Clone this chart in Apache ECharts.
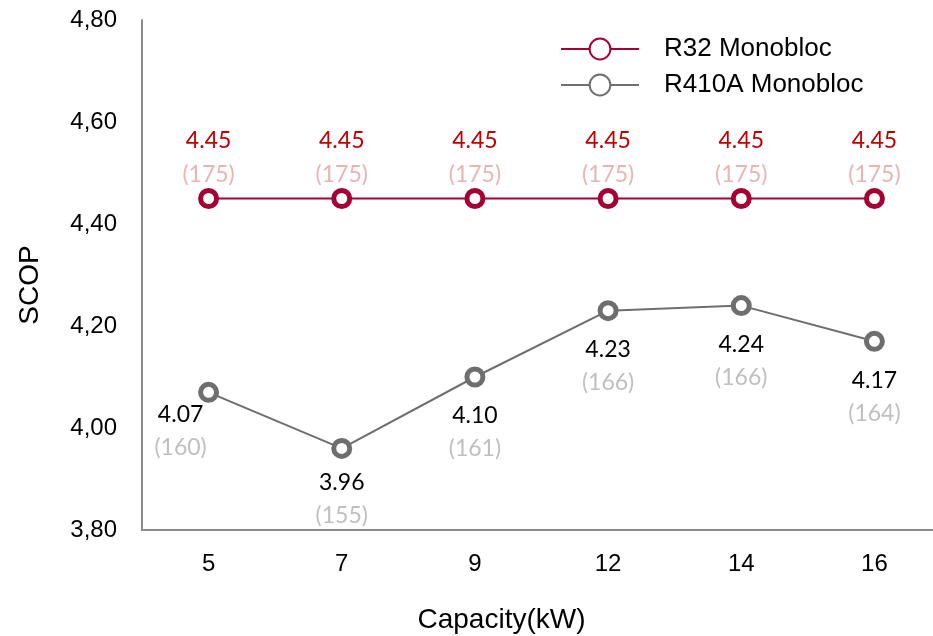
<!DOCTYPE html>
<html>
<head>
<meta charset="utf-8">
<script src="https://cdn.jsdelivr.net/npm/echarts@6/dist/echarts.min.js"></script>
<style>html,body{margin:0;padding:0;background:#fff}#c{width:933px;height:636px}</style>
</head>
<body>
<div id="c"></div>
<script>
const categories = ['5', '7', '9', '12', '14', '16'];
const r32Values = [4.45, 4.45, 4.45, 4.45, 4.45, 4.45];
const r32Secondary = [175, 175, 175, 175, 175, 175];
const r410Values = [4.07, 3.96, 4.10, 4.23, 4.24, 4.17];
const r410Secondary = [160, 155, 161, 166, 166, 164];
const yTicks = { min: 3.8, max: 4.8, interval: 0.2 };

const labelFont = 'Lato, "Open Sans", sans-serif';
const axisFont = '"Liberation Sans", Arial, sans-serif';
const chart = echarts.init(document.getElementById('c'));

const r32Data = r32Values.map(v => ({ value: v }));
const r410Data = r410Values.map((v, i) => {
  const d = { value: v };
  if (i === 0) {
    d.label = { position: 'bottom', offset: [-28, -17] };
  }
  if (i === 1) {
    d.label = { offset: [0, -5] };
  }
  return d;
});

chart.setOption({
  animation: false,
  grid: { left: 142, right: -8, top: 20, bottom: 106, outerBoundsMode: 'none', containLabel: false },
  legend: {
    orient: 'vertical',
    left: 555,
    top: 31,
    itemWidth: 78,
    itemHeight: 26,
    itemGap: 10,
    textStyle: { fontFamily: axisFont, fontSize: 26, color: '#000', padding: [0, 0, 0, 20] },
    data: ['R32 Monobloc', 'R410A Monobloc']
  },
  xAxis: {
    type: 'category',
    data: categories,
    boundaryGap: true,
    axisLine: { lineStyle: { color: '#8c8c8c', width: 2 } },
    axisTick: { show: false },
    axisLabel: { fontFamily: axisFont, fontSize: 24, color: '#000', margin: 22 },
    name: 'Capacity(kW)',
    nameLocation: 'middle',
    nameGap: 76,
    nameTextStyle: { fontFamily: axisFont, fontSize: 28, color: '#000', padding: [0, 80, 0, 0] }
  },
  yAxis: {
    type: 'value',
    min: yTicks.min,
    max: yTicks.max,
    interval: yTicks.interval,
    axisLine: { show: true, lineStyle: { color: '#8c8c8c', width: 2 } },
    axisTick: { show: false },
    splitLine: { show: false },
    axisLabel: {
      fontFamily: axisFont, fontSize: 24, color: '#000', margin: 25,
      formatter: v => v.toFixed(2).replace('.', ',')
    },
    name: 'SCOP',
    nameLocation: 'middle',
    nameGap: 98,
    nameTextStyle: { fontFamily: axisFont, fontSize: 28, color: '#000', padding: [0, 20, 0, 0] }
  },
  series: [
    {
      name: 'R32 Monobloc',
      type: 'line',
      data: r32Data,
      symbol: 'circle',
      symbolSize: 16,
      itemStyle: { color: '#fff', borderColor: '#a50034', borderWidth: 5 },
      lineStyle: { color: '#a50034', width: 2 },
      label: {
        show: true,
        position: 'top',
        distance: -4,
        formatter: p => '{a|' + r32Values[p.dataIndex].toFixed(2) + '}\n{b|(' + r32Secondary[p.dataIndex] + ')}',
        rich: {
          a: { fontFamily: labelFont, fontSize: 23, color: '#c00000', lineHeight: 34, align: 'center' },
          b: { fontFamily: labelFont, fontSize: 23, color: '#e8b4b4', lineHeight: 34, align: 'center' }
        }
      },
      z: 3
    },
    {
      name: 'R410A Monobloc',
      type: 'line',
      data: r410Data,
      symbol: 'circle',
      symbolSize: 16,
      itemStyle: { color: '#fff', borderColor: '#6e6e6e', borderWidth: 5 },
      lineStyle: { color: '#6e6e6e', width: 2 },
      label: {
        show: true,
        position: 'bottom',
        distance: 12,
        formatter: p => '{a|' + r410Values[p.dataIndex].toFixed(2) + '}\n{b|(' + r410Secondary[p.dataIndex] + ')}',
        rich: {
          a: { fontFamily: labelFont, fontSize: 23, color: '#000', lineHeight: 33, align: 'center' },
          b: { fontFamily: labelFont, fontSize: 23, color: '#bfbfbf', lineHeight: 33, align: 'center' }
        }
      },
      z: 3
    }
  ]
});
</script>
</body>
</html>
